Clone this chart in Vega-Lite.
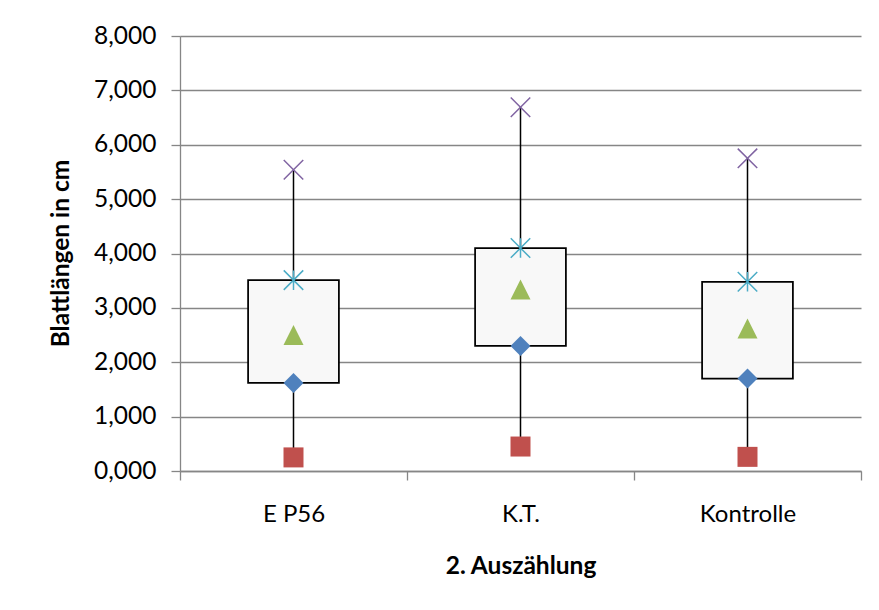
{
  "$schema": "https://vega.github.io/schema/vega-lite/v6.json",
  "width": 681,
  "height": 435,
  "autosize": {"type": "none"},
  "padding": {"left": 180, "top": 36, "right": 18, "bottom": 139},
  "background": "white",
  "config": {"view": {"stroke": null}, "font": "Lato"},
  "data": {
    "values": [
      {"group": "E P56", "Minimum": 0.25, "Q1": 1.62, "Median": 2.5, "Q3": 3.51, "Maximum": 5.54},
      {"group": "K.T.", "Minimum": 0.45, "Q1": 2.3, "Median": 3.34, "Q3": 4.1, "Maximum": 6.69},
      {"group": "Kontrolle", "Minimum": 0.26, "Q1": 1.7, "Median": 2.62, "Q3": 3.48, "Maximum": 5.75}
    ]
  },
  "encoding": {
    "x": {
      "field": "group",
      "type": "nominal",
      "sort": null,
      "scale": {"paddingInner": 0, "paddingOuter": 0},
      "axis": {
        "title": "2. Auszählung",
        "titleFontSize": 24.5,
        "titleFontWeight": "bold",
        "titleColor": "black",
        "titleBaseline": "alphabetic",
        "titleY": 102,
        "labelFontSize": 24,
        "labelColor": "black",
        "labelAngle": 0,
        "labelBaseline": "alphabetic",
        "labelPadding": 41,
        "tickBand": "extent",
        "tickSize": 9,
        "tickColor": "#868686",
        "domainColor": "#868686",
        "domainWidth": 1.3,
        "tickWidth": 1.3,
        "grid": false
      }
    }
  },
  "layer": [
    {
      "mark": {"type": "rule", "color": "black", "strokeWidth": 1.5},
      "encoding": {
        "y": {
          "field": "Minimum",
          "type": "quantitative",
          "title": "Blattlängen in cm",
          "scale": {"domain": [0, 8], "nice": false},
          "axis": {
            "values": [0, 1, 2, 3, 4, 5, 6, 7, 8],
            "labelExpr": "replace(format(datum.value, '.3f'), '.', ',')",
            "labelFontSize": 24.5,
            "labelColor": "black",
            "labelPadding": 15,
            "tickSize": 9,
            "tickColor": "#868686",
            "tickWidth": 1.3,
            "domainColor": "#868686",
            "domainWidth": 1.3,
            "grid": true,
            "gridColor": "#868686",
            "gridWidth": 1.3,
            "titleFontSize": 24.5,
            "titleFontWeight": "bold",
            "titleColor": "black",
            "titleAngle": -90,
            "titleBaseline": "middle",
            "titleX": -119,
            "titleY": 217
          }
        },
        "y2": {"field": "Maximum"}
      }
    },
    {
      "mark": {"type": "bar", "fill": "#F8F8F8", "stroke": "black", "strokeWidth": 1.75, "width": {"band": 0.4}},
      "encoding": {
        "y": {"field": "Q1", "type": "quantitative", "title": "Blattlängen in cm"},
        "y2": {"field": "Q3"}
      }
    },
    {
      "transform": [{"fold": ["Minimum", "Q1", "Median", "Q3", "Maximum"], "as": ["stat", "value"]}],
      "encoding": {
        "y": {"field": "value", "type": "quantitative", "title": "Blattlängen in cm"},
        "shape": {
          "field": "stat",
          "type": "nominal",
          "legend": null,
          "scale": {
            "domain": ["Minimum", "Q1", "Median", "Q3", "Maximum"],
            "range": ["square", "diamond", "M0,-1L1,1L-1,1Z", "M-1,-1L1,1M-1,1L1,-1M0,-1L0,1", "M-1,-1L1,1M-1,1L1,-1"]
          }
        },
        "color": {
          "field": "stat",
          "type": "nominal",
          "legend": null,
          "scale": {
            "domain": ["Minimum", "Q1", "Median", "Q3", "Maximum"],
            "range": ["#C0504D", "#4F81BD", "#9BBB59", "#4BACC6", "#8064A2"]
          }
        }
      },
      "layer": [
        {
          "transform": [{"filter": "datum.stat == 'Minimum' || datum.stat == 'Q1' || datum.stat == 'Median'"}],
          "mark": {"type": "point", "filled": true, "size": 400, "opacity": 1}
        },
        {
          "transform": [{"filter": "datum.stat == 'Q3' || datum.stat == 'Maximum'"}],
          "mark": {"type": "point", "filled": false, "size": 380, "strokeWidth": 1.5, "opacity": 1}
        }
      ]
    }
  ]
}
